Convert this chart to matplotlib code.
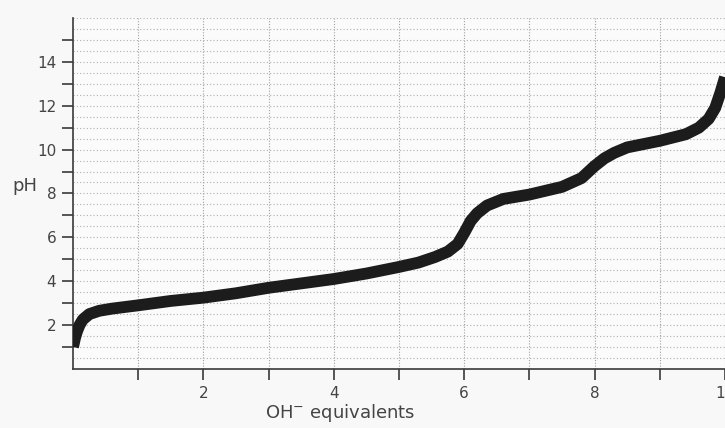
import numpy as np
import matplotlib.pyplot as plt

# titration curve
oh_eq = [0, 0.03, 0.06, 0.1, 0.15, 0.25, 0.4, 0.6, 1.0, 1.5, 2.0, 2.5, 3.0,
         3.5, 4.0, 4.5, 5.0, 5.3, 5.55, 5.75, 5.9, 6.0, 6.1, 6.2, 6.35, 6.6,
         7.0, 7.5, 7.8, 8.0, 8.15, 8.3, 8.5, 9.0, 9.4, 9.6, 9.75, 9.85, 9.93, 10.0]
ph = [1.0, 1.4, 1.7, 2.0, 2.25, 2.5, 2.65, 2.75, 2.9, 3.1, 3.25, 3.45, 3.7,
      3.9, 4.1, 4.35, 4.65, 4.85, 5.1, 5.35, 5.7, 6.2, 6.75, 7.1, 7.45, 7.75,
      7.95, 8.3, 8.7, 9.25, 9.6, 9.85, 10.1, 10.4, 10.7, 11.0, 11.4, 11.9, 12.6, 13.3]

x_ticks = [1, 2, 3, 4, 5, 6, 7, 8, 9, 10]
x_labels = ['', '2', '', '4', '', '6', '', '8', '', '10']
y_ticks = list(range(1, 16))
y_labels = [str(v) if v % 2 == 0 else '' for v in y_ticks]

ink = '#3a3a3a'
fig = plt.figure(figsize=(7.25, 4.28), dpi=100, facecolor='#f8f8f8')
ax = fig.add_axes([0.1007, 0.138, 0.8993, 0.82])
ax.set_facecolor('#fbfbfb')

# dotted grid
for gx in x_ticks:
    ax.axvline(gx, color='#a0a0a0', lw=0.8, ls=(0, (1, 1.5)), zorder=1)
for gy in np.arange(0.5, 16.01, 0.5):
    ax.axhline(gy, color='#b0b0b0', lw=0.8, ls=(0, (1, 2)), zorder=1)

ax.plot(oh_eq, ph, color='#1c1c1c', lw=8.5, solid_capstyle='butt',
        solid_joinstyle='round', zorder=3)

ax.set_xlim(0, 10)
ax.set_ylim(0, 16)
ax.set_xticks(x_ticks)
ax.set_xticklabels(x_labels)
ax.set_yticks(y_ticks)
ax.set_yticklabels(y_labels)
ax.tick_params(direction='out', length=8, width=1.2, color=ink,
               labelcolor='#444444', labelsize=11, pad=4)

for s in ['top', 'right']:
    ax.spines[s].set_visible(False)
for s in ['left', 'bottom']:
    ax.spines[s].set_color(ink)
    ax.spines[s].set_linewidth(1.2)

fig.text(0.017, 0.565, 'pH', fontsize=13, color='#444444', va='center')
fig.text(0.469, 0.036, 'OH$^{-}$ equivalents', fontsize=13, color='#444444',
         ha='center', va='center')

fig.savefig('out.png', dpi=100, facecolor=fig.get_facecolor())
